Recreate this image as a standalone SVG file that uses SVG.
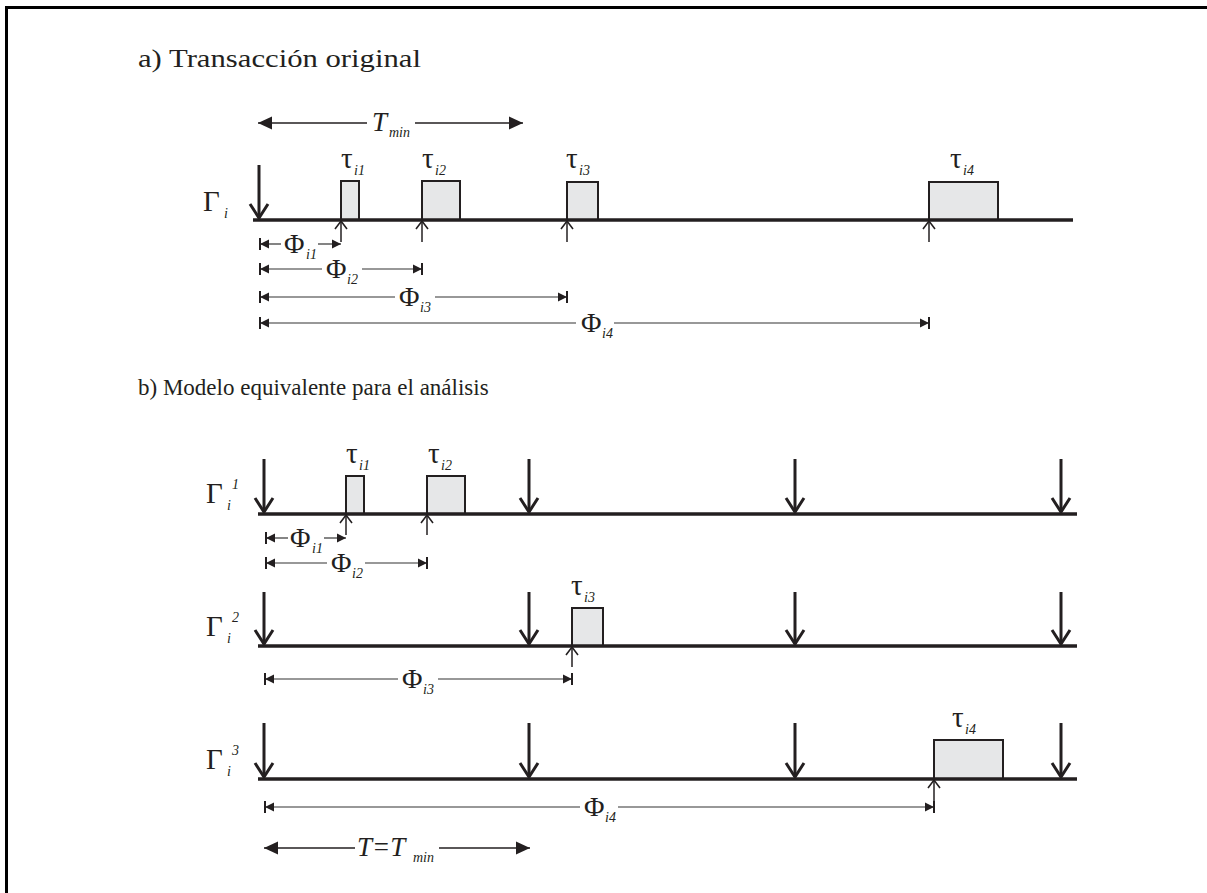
<svg xmlns="http://www.w3.org/2000/svg" width="1207" height="893" viewBox="0 0 1207 893">
  <style>
    .frame { stroke: #000; stroke-width: 3; fill: none; }
    .axis { stroke: #231f20; stroke-width: 3.5; fill: none; }
    .act { stroke: #231f20; stroke-width: 3; fill: none; marker-end: url(#vhead); }
    .rel { stroke: #231f20; stroke-width: 1.5; fill: none; marker-end: url(#vsmall); }
    .task { fill: #e6e7e8; stroke: #231f20; stroke-width: 2; }
    .dim { stroke: #333; stroke-width: 1.2; fill: none; }
    .per { stroke: #231f20; stroke-width: 1.3; fill: none; }
    .title { font-family: "Liberation Serif", "Times New Roman", serif; font-size: 23px; fill: #231f20; }
    .sym { font-family: "Liberation Serif", "Times New Roman", serif; font-size: 28px; fill: #231f20; }
    .tau { font-family: "Liberation Serif", "Times New Roman", serif; font-size: 29px; fill: #231f20; }
    .gam { font-family: "Liberation Serif", "Times New Roman", serif; font-size: 29px; fill: #231f20; }
    .it { font-family: "Liberation Serif", "Times New Roman", serif; font-style: italic; font-size: 27px; fill: #231f20; }
    .sub { font-family: "Liberation Serif", "Times New Roman", serif; font-style: italic; font-size: 14px; fill: #231f20; }
  </style>
  <defs>
    <marker id="vhead" markerUnits="userSpaceOnUse" viewBox="-16 -12 20 24" refX="0" refY="0" markerWidth="20" markerHeight="24" orient="auto" overflow="visible">
      <path d="M -14 -9 L 0 0 L -14 9" fill="none" stroke="#231f20" stroke-width="3"/>
    </marker>
    <marker id="vsmall" markerUnits="userSpaceOnUse" viewBox="-10 -8 12 16" refX="0" refY="0" markerWidth="12" markerHeight="16" orient="auto" overflow="visible">
      <path d="M -8 -6 L 0 0 L -8 6" fill="none" stroke="#231f20" stroke-width="1.6"/>
    </marker>
    <marker id="dimbar" markerUnits="userSpaceOnUse" viewBox="-10 -7 12 14" refX="0" refY="0" markerWidth="12" markerHeight="14" orient="auto-start-reverse" overflow="visible">
      <path d="M -9 -4.5 L 0 0 L -9 4.5 Z" fill="#231f20"/>
      <path d="M 0 -6 L 0 6" stroke="#231f20" stroke-width="2"/>
    </marker>
    <marker id="dimtip" markerUnits="userSpaceOnUse" viewBox="-10 -7 12 14" refX="0" refY="0" markerWidth="12" markerHeight="14" orient="auto-start-reverse" overflow="visible">
      <path d="M -9 -4.5 L 0 0 L -9 4.5 Z" fill="#231f20"/>
    </marker>
    <marker id="tri" markerUnits="userSpaceOnUse" viewBox="-16 -8 18 16" refX="0" refY="0" markerWidth="18" markerHeight="16" orient="auto-start-reverse" overflow="visible">
      <path d="M -14 -6.5 L 0 0 L -14 6.5 Z" fill="#231f20"/>
    </marker>
  </defs>

  <!-- frame edges -->
  <path class="frame" d="M 6.5 893 L 6.5 7.5 L 1207 7.5"/>

  <!-- section titles -->
  <text class="title" x="138" y="67" style="font-size:25px" textLength="283" lengthAdjust="spacingAndGlyphs">a) Transacción original</text>
  <text class="title" x="138" y="395">b) Modelo equivalente para el análisis</text>

  <!-- ===== a) original transaction ===== -->
  <g id="task-i1-a">
    <rect class="task" x="341" y="181" width="18" height="39"/>
    <text class="tau" x="341" y="168">τ</text><text class="sub" x="354" y="175">i1</text>
  </g>
  <g id="task-i2-a">
    <rect class="task" x="422" y="181" width="38" height="39"/>
    <text class="tau" x="422" y="168">τ</text><text class="sub" x="435" y="175">i2</text>
  </g>
  <g id="task-i3-a">
    <rect class="task" x="567" y="182" width="31" height="38"/>
    <text class="tau" x="566" y="168">τ</text><text class="sub" x="579" y="175">i3</text>
  </g>
  <g id="task-i4-a">
    <rect class="task" x="929" y="182" width="69" height="38"/>
    <text class="tau" x="950" y="168">τ</text><text class="sub" x="963" y="175">i4</text>
  </g>
  <g id="timeline-a">
    <line class="axis" x1="253" y1="220" x2="1073" y2="220"/>
    <text class="gam" x="203" y="211">Γ</text><text class="sub" x="224" y="218">i</text>
  </g>
  <g id="tmin-a">
    <line class="per" x1="367" y1="123" x2="258" y2="123" marker-end="url(#tri)"/>
    <line class="per" x1="415" y1="123" x2="523" y2="123" marker-end="url(#tri)"/>
    <text class="it" x="372" y="131">T</text><text class="sub" x="389" y="137">min</text>
  </g>

  <g id="connectors-a">
    <line class="act" x1="259" y1="165" x2="259" y2="218"/>
    <line class="rel" x1="341" y1="242" x2="341" y2="221"/>
    <line class="rel" x1="422" y1="242" x2="422" y2="221"/>
    <line class="rel" x1="567" y1="242" x2="567" y2="221"/>
    <line class="rel" x1="929" y1="242" x2="929" y2="221"/>

    <line class="dim" x1="260" y1="244" x2="281" y2="244" marker-start="url(#dimbar)"/>
    <line class="dim" x1="318" y1="244" x2="341" y2="244" marker-end="url(#dimtip)"/>
    <line class="dim" x1="260" y1="269" x2="322" y2="269" marker-start="url(#dimbar)"/>
    <line class="dim" x1="362" y1="269" x2="422" y2="269" marker-end="url(#dimbar)"/>
    <line class="dim" x1="260" y1="297" x2="395" y2="297" marker-start="url(#dimbar)"/>
    <line class="dim" x1="435" y1="297" x2="567" y2="297" marker-end="url(#dimbar)"/>
    <line class="dim" x1="260" y1="323" x2="576" y2="323" marker-start="url(#dimbar)"/>
    <line class="dim" x1="614" y1="323" x2="929" y2="323" marker-end="url(#dimbar)"/>
  </g>
  <g id="phi-labels-a">
    <text class="sym" x="284" y="253">Φ</text><text class="sub" x="306" y="259">i1</text>
    <text class="sym" x="326" y="278">Φ</text><text class="sub" x="347" y="284">i2</text>
    <text class="sym" x="399" y="306">Φ</text><text class="sub" x="420" y="312">i3</text>
    <text class="sym" x="581" y="332">Φ</text><text class="sub" x="602" y="338">i4</text>
  </g>

  <!-- ===== b) equivalent model ===== -->
  <g id="task-i1-b">
    <rect class="task" x="346" y="476" width="18" height="38"/>
    <text class="tau" x="346" y="463">τ</text><text class="sub" x="359" y="470">i1</text>
  </g>
  <g id="task-i2-b">
    <rect class="task" x="427" y="476" width="38" height="38"/>
    <text class="tau" x="428" y="463">τ</text><text class="sub" x="441" y="470">i2</text>
  </g>
  <g id="timeline-b1">
    <line class="axis" x1="258" y1="514" x2="1077" y2="514"/>
    <text class="gam" x="206" y="503">Γ</text><text class="sub" x="227" y="510">i</text><text class="sub" x="232" y="489">1</text>
  </g>

  <g id="task-i3-b">
    <rect class="task" x="572" y="608" width="31" height="38"/>
    <text class="tau" x="571" y="595">τ</text><text class="sub" x="584" y="602">i3</text>
  </g>
  <g id="timeline-b2">
    <line class="axis" x1="258" y1="646" x2="1077" y2="646"/>
    <text class="gam" x="206" y="636">Γ</text><text class="sub" x="227" y="643">i</text><text class="sub" x="232" y="622">2</text>
  </g>

  <g id="task-i4-b">
    <rect class="task" x="934" y="740" width="69" height="39"/>
    <text class="tau" x="952" y="727">τ</text><text class="sub" x="965" y="734">i4</text>
  </g>
  <g id="timeline-b3">
    <line class="axis" x1="258" y1="779" x2="1077" y2="779"/>
    <text class="gam" x="206" y="769">Γ</text><text class="sub" x="227" y="776">i</text><text class="sub" x="232" y="755">3</text>
  </g>
  <g id="period-b">
    <line class="per" x1="355" y1="848" x2="264" y2="848" marker-end="url(#tri)"/>
    <line class="per" x1="439" y1="848" x2="530" y2="848" marker-end="url(#tri)"/>
    <text class="it" x="357" y="856">T=T</text><text class="sub" x="413" y="862">min</text>
  </g>

  <g id="connectors-b">
    <!-- activations, row 1 -->
    <line class="act" x1="264" y1="459" x2="264" y2="512"/>
    <line class="act" x1="529" y1="459" x2="529" y2="512"/>
    <line class="act" x1="795" y1="459" x2="795" y2="512"/>
    <line class="act" x1="1061" y1="459" x2="1061" y2="512"/>
    <!-- activations, row 2 -->
    <line class="act" x1="264" y1="592" x2="264" y2="644"/>
    <line class="act" x1="529" y1="592" x2="529" y2="644"/>
    <line class="act" x1="795" y1="592" x2="795" y2="644"/>
    <line class="act" x1="1061" y1="592" x2="1061" y2="644"/>
    <!-- activations, row 3 -->
    <line class="act" x1="264" y1="723" x2="264" y2="777"/>
    <line class="act" x1="529" y1="723" x2="529" y2="777"/>
    <line class="act" x1="795" y1="723" x2="795" y2="777"/>
    <line class="act" x1="1061" y1="723" x2="1061" y2="777"/>

    <!-- releases -->
    <line class="rel" x1="346" y1="535" x2="346" y2="515"/>
    <line class="rel" x1="427" y1="535" x2="427" y2="515"/>
    <line class="rel" x1="572" y1="667" x2="572" y2="647"/>
    <line class="rel" x1="934" y1="812" x2="934" y2="780"/>

    <!-- offsets -->
    <line class="dim" x1="266" y1="538" x2="288" y2="538" marker-start="url(#dimbar)"/>
    <line class="dim" x1="324" y1="538" x2="346" y2="538" marker-end="url(#dimtip)"/>
    <line class="dim" x1="266" y1="563" x2="327" y2="563" marker-start="url(#dimbar)"/>
    <line class="dim" x1="365" y1="563" x2="427" y2="563" marker-end="url(#dimbar)"/>
    <line class="dim" x1="265" y1="679" x2="398" y2="679" marker-start="url(#dimbar)"/>
    <line class="dim" x1="438" y1="679" x2="572" y2="679" marker-end="url(#dimbar)"/>
    <line class="dim" x1="265" y1="807" x2="580" y2="807" marker-start="url(#dimbar)"/>
    <line class="dim" x1="618" y1="807" x2="934" y2="807" marker-end="url(#dimbar)"/>
  </g>
  <g id="phi-labels-b">
    <text class="sym" x="290" y="547">Φ</text><text class="sub" x="312" y="553">i1</text>
    <text class="sym" x="331" y="572">Φ</text><text class="sub" x="352" y="578">i2</text>
    <text class="sym" x="402" y="688">Φ</text><text class="sub" x="423" y="694">i3</text>
    <text class="sym" x="584" y="816">Φ</text><text class="sub" x="605" y="822">i4</text>
  </g>
</svg>
